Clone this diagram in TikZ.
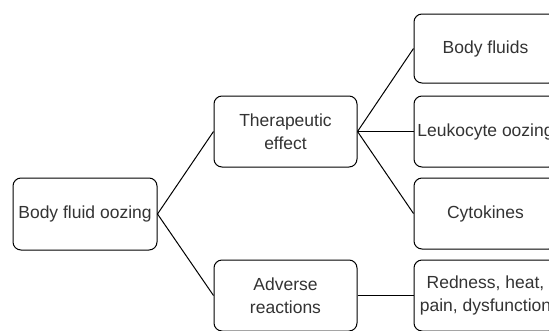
\documentclass[tikz,border=0pt]{standalone}
\usepackage{fontspec}
\setmainfont{Liberation Sans}
\definecolor{txt}{HTML}{333333}
\begin{document}
\begin{tikzpicture}[x=1pt,y=-1pt,
  box/.style={draw=black, line width=1pt, rounded corners=8pt, minimum width=143pt, minimum height=71pt, inner sep=0pt, align=center, text=txt, font=\fontsize{17.5}{23}\selectfont},
  link/.style={draw=black, line width=1pt}]
\useasboundingbox (0,0) rectangle (549,330);
\node[box, minimum width=144pt, minimum height=72pt] (root) at (85,214) {Body fluid oozing};
\node[box] (ther) at (285.5,131.5) {Therapeutic\\effect};
\node[box] (adv) at (285.5,295.5) {Adverse\\reactions};
\node[box, minimum height=69pt] (bf) at (485.5,48.5) {Body fluids};
\node[box] (leu) at (485.5,131.5) {Leukocyte oozing};
\node[box] (cyt) at (485.5,213.5) {Cytokines};
\node[box] (red) at (485.5,295.5) {Redness, heat,\\pain, dysfunction};
\draw[link] (root.east) -- (ther.west);
\draw[link] (root.east) -- (adv.west);
\draw[link] (ther.east) -- (bf.west);
\draw[link] (ther.east) -- (leu.west);
\draw[link] (ther.east) -- (cyt.west);
\draw[link] (adv.east) -- (red.west);
\end{tikzpicture}
\end{document}
